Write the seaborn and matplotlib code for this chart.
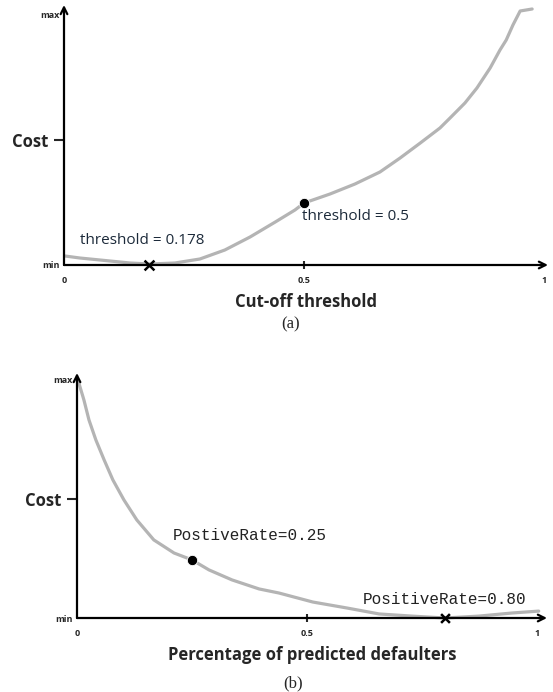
import matplotlib
matplotlib.use("Agg")
import matplotlib.pyplot as plt
import pandas as pd
import seaborn as sns

# (a) cost vs cut-off threshold
thr_x = [0.002, 0.033, 0.075, 0.1375, 0.179, 0.231, 0.283, 0.335, 0.3875, 0.44,
         0.481, 0.5, 0.554, 0.606, 0.658, 0.7, 0.742, 0.783, 0.804, 0.835,
         0.86, 0.8875, 0.908, 0.921, 0.935, 0.95, 0.975]
thr_cost = [0.036, 0.028, 0.02, 0.008, 0.004, 0.008, 0.024, 0.06, 0.112, 0.172,
            0.22, 0.248, 0.284, 0.324, 0.372, 0.428, 0.488, 0.548, 0.588, 0.648,
            0.708, 0.788, 0.86, 0.9, 0.96, 1.016, 1.024]
thr_best = (0.178, 0.0)
thr_default = (0.5, 0.248)

# (b) cost vs percentage of predicted defaulters
pos_x = [0.002, 0.015, 0.026, 0.041, 0.059, 0.078, 0.102, 0.13, 0.167, 0.211,
         0.25, 0.287, 0.337, 0.396, 0.439, 0.513, 0.587, 0.657, 0.728, 0.8,
         0.874, 0.946, 1.004]
pos_cost = [1.0, 0.916, 0.832, 0.748, 0.664, 0.58, 0.496, 0.412, 0.328, 0.273,
            0.244, 0.202, 0.16, 0.122, 0.105, 0.067, 0.042, 0.017, 0.008, 0.0,
            0.008, 0.021, 0.029]
pos_default = (0.25, 0.244)
pos_best = (0.80, 0.0)

sns.set_theme(style="white")
plt.rcParams["font.family"] = ["Open Sans", "DejaVu Sans"]

fig = plt.figure(figsize=(5.53, 6.92), dpi=100)
ax1 = fig.add_axes([64 / 553, 1 - 265 / 692, 484 / 553, 260 / 692])
ax2 = fig.add_axes([77 / 553, 1 - 618 / 692, 470 / 553, 245 / 692])

curve_color = "#b4b4b4"


def style_axes(ax, xmax, ymax, xlabel):
    ax.set_xlim(0, xmax)
    ax.set_ylim(0, ymax)
    for s in ax.spines.values():
        s.set_visible(False)
    ax.annotate("", xy=(1, 0), xytext=(0, 0), xycoords="axes fraction",
                arrowprops=dict(arrowstyle="->", lw=1.6, color="black",
                                shrinkA=0, shrinkB=0, mutation_scale=12))
    ax.annotate("", xy=(0, 1), xytext=(0, 0), xycoords="axes fraction",
                arrowprops=dict(arrowstyle="->", lw=1.6, color="black",
                                shrinkA=0, shrinkB=0, mutation_scale=12))
    ax.set_yticks([0.5], labels=["Cost"])
    ax.set_yticks([0, 1], labels=["min", "max"], minor=True)
    ax.set_xticks([0.5], labels=["0.5"])
    ax.set_xticks([0, 1], labels=["0", "1"], minor=True)
    ax.tick_params(axis="y", which="major", left=True, length=7, width=1.5,
                   pad=4, labelsize=12)
    ax.tick_params(axis="y", which="minor", left=True, length=0, pad=3,
                   labelsize=6.5)
    ax.tick_params(axis="x", which="major", bottom=True, direction="inout",
                   length=6, width=1.5, pad=5, labelsize=6.5)
    ax.tick_params(axis="x", which="minor", bottom=True, length=0, pad=8,
                   labelsize=6.5)
    for lab in ax.get_yticklabels() + ax.get_yticklabels(minor=True) + \
            ax.get_xticklabels() + ax.get_xticklabels(minor=True):
        lab.set_fontweight("bold")
    ax.set_xlabel(xlabel, fontsize=12, fontweight="bold", labelpad=6)
    ax.set_ylabel("")


df_a = pd.DataFrame({"x": thr_x, "cost": thr_cost})
sns.lineplot(data=df_a, x="x", y="cost", ax=ax1, color=curve_color, lw=2.3,
             clip_on=False)
sns.scatterplot(x=[thr_default[0]], y=[thr_default[1]], ax=ax1, color="black",
                s=55, zorder=5, clip_on=False)
sns.scatterplot(x=[thr_best[0]], y=[thr_best[1]], ax=ax1, color="black",
                marker="x", s=50, linewidth=1.8, zorder=5, clip_on=False)
style_axes(ax1, 1.008, 1.04, "Cut-off threshold")
ax1.text(0.033, 0.1, "threshold = 0.178", fontsize=11, color="#1c2a3a",
         va="center", ha="left")
ax1.text(0.496, 0.196, "threshold = 0.5", fontsize=11, color="#1c2a3a",
         va="center", ha="left")

df_b = pd.DataFrame({"x": pos_x, "cost": pos_cost})
sns.lineplot(data=df_b, x="x", y="cost", ax=ax2, color=curve_color, lw=2.3,
             clip_on=False)
sns.scatterplot(x=[pos_default[0]], y=[pos_default[1]], ax=ax2, color="black",
                s=55, zorder=5, clip_on=False)
sns.scatterplot(x=[pos_best[0]], y=[pos_best[1]], ax=ax2, color="black",
                marker="x", s=40, linewidth=1.8, zorder=5, clip_on=False)
style_axes(ax2, 1.022, 1.029, "Percentage of predicted defaulters")
ax2.text(0.209, 0.345, "PostiveRate=0.25", fontsize=11.5, color="#222222",
         family=["Liberation Mono"], va="center", ha="left")
ax2.text(0.622, 0.076, "PositiveRate=0.80", fontsize=11.5, color="#222222",
         family=["Liberation Mono"], va="center", ha="left")

fig.text(291 / 553, 1 - 324 / 692, "(a)", fontsize=12,
         family=["Liberation Serif"], ha="center", va="center")
fig.text(293 / 553, 1 - 683 / 692, "(b)", fontsize=12,
         family=["Liberation Serif"], ha="center", va="center")

fig.savefig("out.png", dpi=100)
